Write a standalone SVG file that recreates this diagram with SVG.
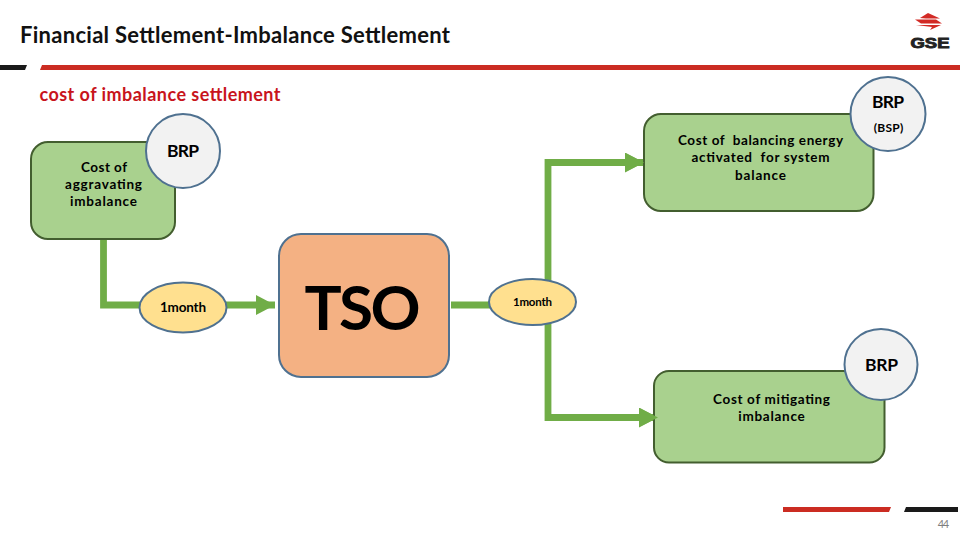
<svg xmlns="http://www.w3.org/2000/svg" width="960" height="540" viewBox="0 0 960 540">
<defs>
<marker id="ah" markerUnits="userSpaceOnUse" markerWidth="20" markerHeight="20" refX="19" refY="10" orient="auto"><path d="M0 0L19 10L0 20Z" fill="#70ad47"/></marker>
</defs>
<style>
text{font-family:"Lato","Open Sans","Liberation Sans",sans-serif;text-anchor:middle;fill:#000}
.g{fill:#a9d18e;stroke:#435e2f;stroke-width:2}
.c{fill:#f2f2f2;stroke:#4f7190;stroke-width:2}
.y{fill:#ffe08f;stroke:#4f7190;stroke-width:2}
.l{font-size:13.5px;font-weight:700}
.b{font-size:17.5px;font-weight:700}
.w{fill:none;stroke:#70ad47;stroke-width:6.800}
</style>
<rect width="960" height="540" fill="#fff"/>
<g id="header">
<text x="235" y="43" textLength="430" style="font-size:22px;font-weight:700;fill:#111">Financial Settlement-Imbalance Settlement</text>
<path d="M0 65H27L25 70H0Z" fill="#1a1a1a"/>
<path d="M42 65H960V70H40Z" fill="#cb2c22"/>
<text x="160" y="101" textLength="241" style="font-size:18px;font-weight:700;fill:#c8141c">cost of imbalance settlement</text>
</g>
<g id="logo">
<path d="M920 18L928 13L940 18.500H926Z" fill="#d22a25"/>
<path d="M915 19.500H936L942 23.500H921Z" fill="#d22a25"/>
<path d="M916 25H938L941 25L930 30L932 27Z" fill="#d22a25"/>
<text x="930" y="48" textLength="39" lengthAdjust="spacingAndGlyphs" style="font-family:'Liberation Sans',sans-serif;font-size:15px;font-weight:700;fill:#222;stroke:#222;stroke-width:.9">GSE</text>
</g>
<g id="node-aggravating">
<rect class="g" x="31" y="142" width="144" height="97" rx="17"/>
<text class="l" x="104" y="172" textLength="46">Cost of</text><text class="l" x="103.500" y="189" textLength="77">aggravating</text><text class="l" x="103.500" y="206" textLength="67">imbalance</text>
</g>
<g id="node-brp-left"><circle class="c" cx="183" cy="151" r="37"/><text class="b" x="183" y="157" textLength="32">BRP</text></g>
<g id="connectors">
<path class="w" d="M103.500 240V305H142"/>
<path class="w" d="M225 305H275" marker-end="url(#ah)"/>
<path class="w" d="M451 305H492"/>
<path class="w" d="M548 283V162.500H644" marker-end="url(#ah)"/>
<path class="w" d="M548 321V417.500H658" marker-end="url(#ah)"/>
</g>
<g id="node-1month-left"><ellipse class="y" cx="183" cy="307.500" rx="43.500" ry="25"/><text class="l" x="183" y="312" textLength="46">1month</text></g>
<g id="node-tso"><rect x="279" y="234" width="170" height="143" rx="22" fill="#f4b183" stroke="#4f7190" stroke-width="2"/><text x="362.500" y="330" textLength="116" style="font-size:62px;font-weight:700">TSO</text></g>
<g id="node-1month-right"><ellipse class="y" cx="532.500" cy="302" rx="43.500" ry="23"/><text x="532.500" y="306" textLength="39" style="font-size:11.500px;font-weight:700">1month</text></g>
<g id="node-balancing">
<rect class="g" x="644" y="114" width="229.500" height="97" rx="17"/>
<text class="l" x="760.500" y="145" textLength="165" xml:space="preserve">Cost of  balancing energy</text><text class="l" x="760.500" y="162" textLength="138" xml:space="preserve">activated  for system</text><text class="l" x="760.500" y="180" textLength="51">balance</text>
</g>
<g id="node-brp-bsp"><ellipse class="c" cx="888" cy="114" rx="37.500" ry="37"/><text class="b" x="888" y="107.500" textLength="32">BRP</text><text x="888.500" y="132" textLength="29.500" style="font-size:12px;font-weight:700">(BSP)</text></g>
<g id="node-mitigating">
<rect class="g" x="654" y="371" width="230.500" height="91.500" rx="15"/>
<text class="l" x="771.500" y="404" textLength="117">Cost of mitigating</text><text class="l" x="771.500" y="421" textLength="66.500">imbalance</text>
</g>
<g id="node-brp-bottom"><ellipse class="c" cx="881" cy="364.500" rx="36.500" ry="35.500"/><text class="b" x="881.500" y="371" textLength="33">BRP</text></g>
<g id="arrow-tips">
<path d="M639 408L658 417.500L639 427Z" fill="#70ad47"/>
<path d="M625 153L644 162.500L625 172Z" fill="#70ad47"/>
</g>
<g id="footer">
<path d="M783 507H891L889 512H783Z" fill="#cb2c22"/>
<path d="M906 507H958V512H904Z" fill="#1a1a1a"/>
<text x="943.500" y="528" textLength="11.500" style="font-size:11px;fill:#7f7f7f">44</text>
</g>
</svg>
